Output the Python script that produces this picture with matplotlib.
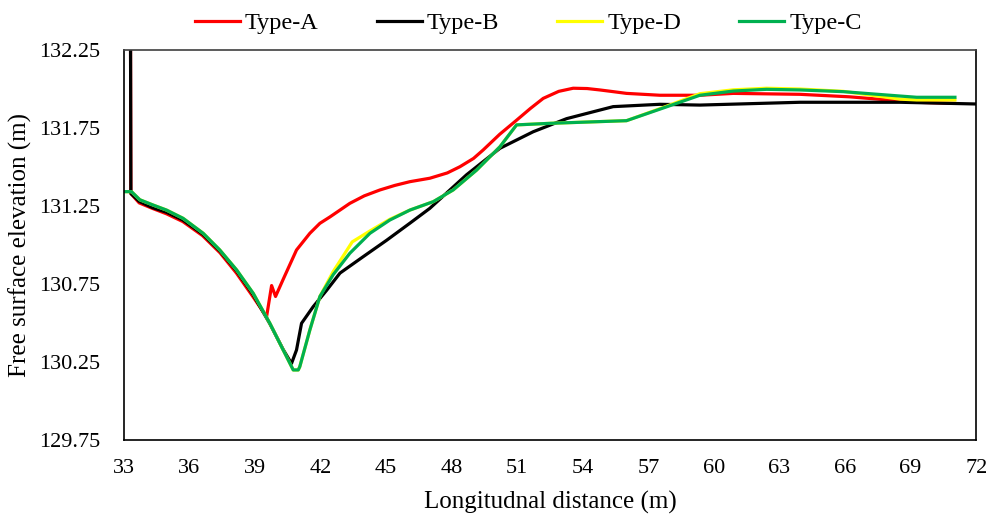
import matplotlib
matplotlib.use("Agg")
import matplotlib.pyplot as plt
import numpy as np

# data
x_a = [33.3, 33.32, 33.7, 34.3, 34.95, 35.7, 36.6, 37.4, 38.15, 38.9, 39.53,
       39.76, 39.94, 40.29, 40.9, 41.51, 41.97, 42.43, 43.34, 44.0, 44.72, 45.4,
       46.09, 47.0, 47.8, 48.38, 49.0, 49.44, 50.2, 50.97, 51.6, 52.19, 52.9, 53.56,
       54.2, 54.78, 55.4, 56.0, 57.53, 59.36, 60.89, 63.94, 66.2, 69.28, 71.0]
y_a = [132.6, 131.33, 131.27, 131.235, 131.2, 131.15, 131.06, 130.95, 130.82,
       130.67, 130.54, 130.74, 130.67, 130.78, 130.968, 131.075, 131.139, 131.18,
       131.267, 131.315, 131.353, 131.382, 131.406, 131.428, 131.462, 131.502,
       131.555, 131.609, 131.71, 131.80, 131.875, 131.94, 131.985, 132.005, 132.003,
       131.994, 131.983, 131.972, 131.96, 131.96, 131.972, 131.966, 131.95, 131.915,
       131.908]

x_b = [33.3, 33.32, 33.7, 34.3, 34.95, 35.7, 36.6, 37.4, 38.15, 38.9, 39.68,
       40.29, 40.67, 40.9, 41.13, 41.66, 42.28, 42.89, 43.95, 45.02, 46.09, 47.0,
       48.68, 50.21, 51.73, 53.26, 54.78, 55.39, 57.53, 59.36, 63.94, 68.52, 72.0]
y_b = [132.6, 131.33, 131.28, 131.24, 131.21, 131.16, 131.07, 130.96, 130.835,
       130.685, 130.495, 130.33, 130.24, 130.327, 130.498, 130.604, 130.71, 130.82,
       130.925, 131.03, 131.14, 131.235, 131.45, 131.62, 131.726, 131.81, 131.865,
       131.887, 131.902, 131.897, 131.915, 131.915, 131.904]

x_d = [33.0, 33.35, 33.73, 34.34, 34.95, 35.71, 36.63, 37.39, 38.16, 38.92, 39.68,
       40.29, 40.75, 40.98, 41.05, 41.51, 41.97, 42.58, 43.45, 44.26, 45.17, 46.09,
       47.16, 48.07, 49.14, 50.21, 50.97, 52.5, 56.0, 57.84, 59.36, 60.89, 62.41,
       63.94, 65.92, 68.52, 69.28, 71.03]
y_d = [131.342, 131.342, 131.29, 131.256, 131.224, 131.171, 131.075, 130.968, 130.84,
       130.69, 130.498, 130.327, 130.199, 130.199, 130.22, 130.455, 130.67, 130.83,
       131.02, 131.09, 131.165, 131.224, 131.278, 131.353, 131.48, 131.63, 131.77,
       131.78, 131.797, 131.89, 131.97, 131.995, 132.005, 132.0, 131.985, 131.935,
       131.93, 131.93]

x_c = [33.0, 33.35, 33.73, 34.34, 34.95, 35.71, 36.63, 37.39, 38.16, 38.92, 39.68,
       40.29, 40.75, 40.98, 41.05, 41.51, 41.97, 42.58, 43.34, 44.26, 45.17, 46.09,
       47.16, 48.07, 49.14, 50.21, 50.97, 52.5, 56.0, 57.84, 59.36, 60.89, 62.41,
       63.94, 65.92, 68.52, 69.28, 71.03]
y_c = [131.342, 131.342, 131.29, 131.256, 131.224, 131.171, 131.075, 130.968, 130.84,
       130.69, 130.498, 130.327, 130.199, 130.199, 130.22, 130.455, 130.67, 130.81,
       130.947, 131.075, 131.16, 131.224, 131.278, 131.353, 131.48, 131.63, 131.77,
       131.78, 131.797, 131.886, 131.96, 131.987, 131.998, 131.994, 131.983, 131.955,
       131.947, 131.947]

x_ticks = np.arange(33, 73, 3)
y_ticks = [129.75, 130.25, 130.75, 131.25, 131.75, 132.25]

plt.rcParams['font.family'] = ['Liberation Serif', 'DejaVu Serif']

fig = plt.figure(figsize=(9.91, 5.21), dpi=100)
ax = fig.add_axes([0.125, 0.1555, 0.86, 0.7485])

ax.plot(x_a, y_a, color='#ff0000', lw=2.3, label='Type-A')
ax.plot(x_b, y_b, color='#000000', lw=2.3, label='Type-B')
ax.plot(x_d, y_d, color='#ffff00', lw=2.3, label='Type-D')
ax.plot(x_c, y_c, color='#00b050', lw=2.3, label='Type-C')

ax.set_xlim(33, 72)
ax.set_ylim(129.75, 132.25)
ax.set_xticks(x_ticks)
ax.set_yticks(y_ticks)
ax.set_yticklabels(['%.2f' % v for v in y_ticks])
ax.tick_params(axis='x', length=0, labelsize=16, pad=14)
ax.tick_params(axis='y', length=0, labelsize=16, pad=17)

for s in ['left', 'bottom', 'right']:
    ax.spines[s].set_color('black')
    ax.spines[s].set_linewidth(1.2)
ax.spines['top'].set_color('#404040')
ax.spines['top'].set_linewidth(1.2)

ax.set_xlabel('Longitudnal distance (m)', fontsize=18, labelpad=9)
ax.set_ylabel('Free surface elevation (m)', fontsize=18, labelpad=5)

fig.legend(*ax.get_legend_handles_labels(), loc='center',
           bbox_to_anchor=(0.533, 0.955), ncol=4, frameon=False,
           fontsize=17.5, handlelength=1.85, columnspacing=2.4, handletextpad=0.2,
           borderpad=0.0)

fig.savefig('out.png', dpi=100)
